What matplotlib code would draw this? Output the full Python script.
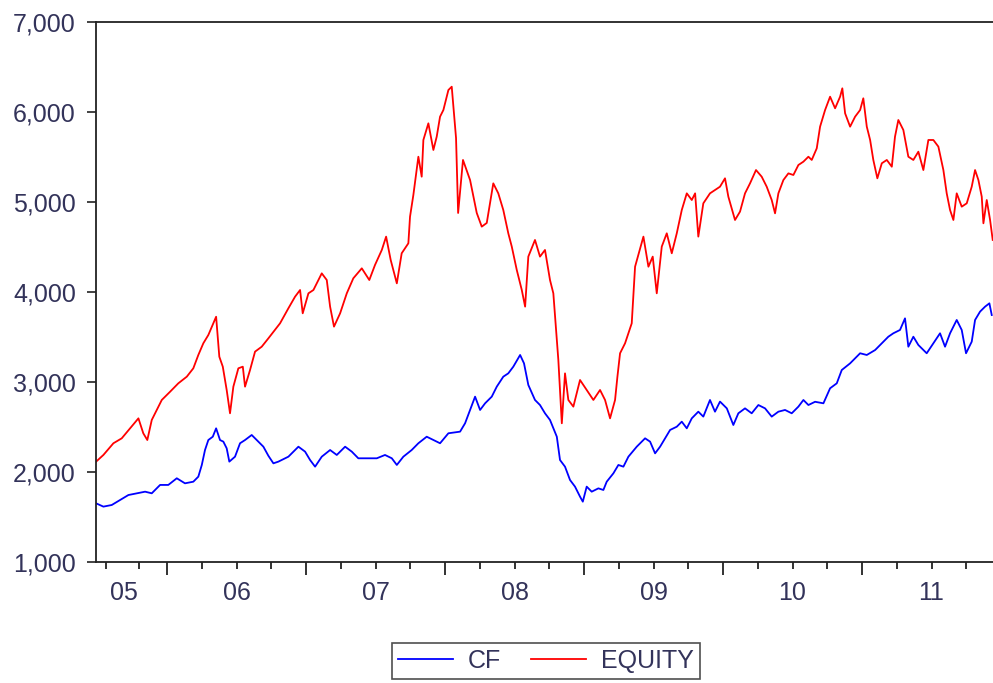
import matplotlib
matplotlib.use("Agg")
import matplotlib.pyplot as plt
from matplotlib.ticker import FuncFormatter
from matplotlib.transforms import blended_transform_factory

# time axis in decimal years
cf_t = [2005.489, 2005.542, 2005.602, 2005.662, 2005.722, 2005.782, 2005.842, 2005.890,
        2005.950, 2006.009, 2006.070, 2006.129, 2006.189, 2006.225, 2006.250, 2006.273,
        2006.297, 2006.329, 2006.353, 2006.381, 2006.405, 2006.429, 2006.448, 2006.489,
        2006.525, 2006.561, 2006.609, 2006.645, 2006.693, 2006.729, 2006.765, 2006.801,
        2006.873, 2006.945, 2006.993, 2007.029, 2007.065, 2007.113, 2007.173, 2007.221,
        2007.281, 2007.329, 2007.376, 2007.437, 2007.509, 2007.568, 2007.617, 2007.653,
        2007.700, 2007.760, 2007.808, 2007.868, 2007.916, 2007.964, 2008.024, 2008.108,
        2008.144, 2008.180, 2008.216, 2008.252, 2008.288, 2008.336, 2008.372, 2008.419,
        2008.455, 2008.491, 2008.540, 2008.568, 2008.599, 2008.647, 2008.683, 2008.719,
        2008.755, 2008.804, 2008.827, 2008.863, 2008.899, 2008.935, 2008.971, 2008.991,
        2009.019, 2009.055, 2009.103, 2009.139, 2009.163, 2009.211, 2009.247, 2009.283,
        2009.319, 2009.379, 2009.439, 2009.475, 2009.511, 2009.547, 2009.583, 2009.619,
        2009.667, 2009.703, 2009.739, 2009.775, 2009.822, 2009.858, 2009.906, 2009.942,
        2009.978, 2010.027, 2010.074, 2010.110, 2010.158, 2010.206, 2010.254, 2010.302,
        2010.350, 2010.398, 2010.446, 2010.494, 2010.542, 2010.578, 2010.614, 2010.662,
        2010.722, 2010.770, 2010.818, 2010.854, 2010.914, 2010.986, 2011.034, 2011.094,
        2011.142, 2011.189, 2011.225, 2011.273, 2011.309, 2011.333, 2011.369, 2011.405,
        2011.465, 2011.513, 2011.561, 2011.597, 2011.633, 2011.681, 2011.717, 2011.748,
        2011.789, 2011.813, 2011.849, 2011.885, 2011.916, 2011.933]
cf_v = [1652, 1615, 1633, 1689, 1744, 1763, 1781, 1763,
        1856, 1856, 1930, 1874, 1892, 1948, 2078, 2244,
        2355, 2392, 2485, 2355, 2337, 2263, 2115, 2170,
        2319, 2355, 2411, 2355, 2281, 2180, 2096, 2115,
        2170, 2281, 2226, 2133, 2059, 2170, 2244, 2189,
        2281, 2226, 2152, 2152, 2152, 2189, 2152, 2078,
        2170, 2244, 2319, 2392, 2355, 2319, 2430, 2448,
        2541, 2689, 2837, 2689, 2763, 2837, 2948, 3059,
        3096, 3170, 3300, 3207, 2967, 2800, 2744, 2652,
        2578, 2392, 2133, 2059, 1911, 1837, 1726, 1670,
        1837, 1781, 1818, 1800, 1892, 1985, 2078, 2059,
        2170, 2281, 2374, 2337, 2207, 2281, 2374, 2467,
        2503, 2559, 2485, 2596, 2670, 2615, 2800, 2670,
        2782, 2707, 2522, 2652, 2707, 2652, 2744, 2707,
        2615, 2670, 2689, 2652, 2726, 2800, 2744, 2780,
        2763, 2930, 2985, 3133, 3207, 3319, 3300, 3355,
        3430, 3503, 3541, 3578, 3707, 3392, 3503, 3411,
        3319, 3430, 3541, 3392, 3541, 3689, 3578, 3319,
        3448, 3689, 3782, 3837, 3874, 3744]

eq_t = [2005.489, 2005.542, 2005.614, 2005.674, 2005.734, 2005.794, 2005.829, 2005.858,
        2005.890, 2005.926, 2005.962, 2006.022, 2006.081, 2006.142, 2006.189, 2006.225,
        2006.261, 2006.297, 2006.322, 2006.353, 2006.376, 2006.401, 2006.429, 2006.453,
        2006.477, 2006.513, 2006.545, 2006.561, 2006.597, 2006.633, 2006.681, 2006.729,
        2006.813, 2006.873, 2006.921, 2006.957, 2006.976, 2007.017, 2007.053, 2007.089,
        2007.113, 2007.149, 2007.173, 2007.201, 2007.245, 2007.293, 2007.340, 2007.401,
        2007.455, 2007.496, 2007.545, 2007.576, 2007.609, 2007.653, 2007.688, 2007.736,
        2007.748, 2007.772, 2007.808, 2007.832, 2007.844, 2007.880, 2007.916, 2007.940,
        2007.964, 2007.988, 2008.024, 2008.048, 2008.079, 2008.094, 2008.129, 2008.180,
        2008.228, 2008.264, 2008.300, 2008.347, 2008.383, 2008.419, 2008.455, 2008.480,
        2008.516, 2008.552, 2008.576, 2008.599, 2008.647, 2008.683, 2008.719, 2008.755,
        2008.779, 2008.799, 2008.815, 2008.840, 2008.863, 2008.887, 2008.923, 2008.971,
        2009.019, 2009.067, 2009.115, 2009.151, 2009.187, 2009.223, 2009.240, 2009.259,
        2009.295, 2009.343, 2009.367, 2009.427, 2009.463, 2009.494, 2009.523, 2009.559,
        2009.595, 2009.631, 2009.667, 2009.703, 2009.739, 2009.775, 2009.799, 2009.822,
        2009.858, 2009.906, 2009.942, 2009.978, 2010.014, 2010.038, 2010.086, 2010.122,
        2010.158, 2010.194, 2010.237, 2010.278, 2010.314, 2010.350, 2010.374, 2010.398,
        2010.434, 2010.470, 2010.506, 2010.542, 2010.578, 2010.614, 2010.638, 2010.674,
        2010.698, 2010.734, 2010.770, 2010.806, 2010.842, 2010.858, 2010.878, 2010.914,
        2010.950, 2010.986, 2011.009, 2011.034, 2011.058, 2011.081, 2011.110, 2011.142,
        2011.178, 2011.214, 2011.237, 2011.261, 2011.297, 2011.333, 2011.369, 2011.405,
        2011.441, 2011.477, 2011.513, 2011.549, 2011.585, 2011.609, 2011.633, 2011.657,
        2011.681, 2011.717, 2011.753, 2011.789, 2011.813, 2011.837, 2011.861, 2011.873,
        2011.897, 2011.921, 2011.940]
eq_v = [2114, 2189, 2319, 2374, 2485, 2596, 2430, 2355,
        2578, 2689, 2800, 2892, 2985, 3059, 3152, 3300,
        3430, 3522, 3614, 3725, 3281, 3170, 2911, 2652,
        2948, 3152, 3170, 2948, 3133, 3337, 3392, 3485,
        3652, 3819, 3948, 4022, 3763, 3985, 4022, 4133,
        4207, 4133, 3837, 3615, 3763, 3985, 4152, 4263,
        4133, 4300, 4467, 4615, 4355, 4096, 4430, 4541,
        4837, 5078, 5503, 5281, 5689, 5874, 5578, 5726,
        5948, 6022, 6244, 6281, 5711, 4878, 5467, 5244,
        4878, 4726, 4767, 5207, 5096, 4911, 4652, 4504,
        4244, 4022, 3837, 4393, 4578, 4393, 4467, 4133,
        3985, 3578, 3244, 2541, 3096, 2800, 2726, 3022,
        2911, 2800, 2911, 2800, 2596, 2800, 3059, 3319,
        3430, 3652, 4281, 4615, 4281, 4393, 3985, 4504,
        4652, 4430, 4652, 4911, 5096, 5022, 5096, 4615,
        4985, 5096, 5133, 5170, 5263, 5059, 4800, 4893,
        5096, 5207, 5355, 5281, 5170, 5022, 4874, 5096,
        5244, 5318, 5300, 5411, 5448, 5503, 5467, 5596,
        5837, 6022, 6170, 6041, 6170, 6263, 5985, 5837,
        5948, 6022, 6152, 5837, 5689, 5467, 5263, 5430,
        5467, 5392, 5726, 5911, 5800, 5503, 5467, 5559,
        5355, 5689, 5689, 5615, 5355, 5096, 4911, 4800,
        5096, 4948, 4985, 5170, 5355, 5244, 5059, 4763,
        5022, 4800, 4578]

years = [2006, 2007, 2008, 2009, 2010, 2011]
year_labels = ["05", "06", "07", "08", "09", "10", "11"]
label_pos = [2005.69, 2006.5, 2007.5, 2008.5, 2009.5, 2010.5, 2011.5]
y_ticks = [1000, 2000, 3000, 4000, 5000, 6000, 7000]

text_col = "#33335a"
plt.rcParams["font.family"] = ["Liberation Sans", "DejaVu Sans"]

fig = plt.figure(figsize=(9.93, 6.83), dpi=100)
ax = fig.add_axes([0.0967, 0.1772, 0.9033, 0.7906])

ax.plot(cf_t, cf_v, color="#0000ff", linewidth=1.3, label="CF")
ax.plot(eq_t, eq_v, color="#ff0000", linewidth=1.3, label="EQUITY")

ax.set_xlim(2005.489, 2011.942)
ax.set_ylim(1000, 7000)

# spines: the right edge is cut off in the original
ax.spines["right"].set_visible(False)
for side in ["top", "left", "bottom"]:
    ax.spines[side].set_linewidth(1.3)
    ax.spines[side].set_color("#222222")

ax.set_yticks(y_ticks)
ax.yaxis.set_major_formatter(FuncFormatter(lambda v, _: f"{int(v):,}"))
ax.tick_params(axis="y", direction="out", length=6.5, width=1.2, pad=8,
               labelsize=18, labelcolor=text_col, color="#222222")

# long ticks at year starts, short ticks at quarters
quarters = [2005.56, 2005.80]
for y in years:
    quarters += [y + 0.25, y + 0.5, y + 0.75]
ax.set_xticks(years)
ax.set_xticklabels([])
ax.set_xticks(quarters, minor=True)
ax.tick_params(axis="x", which="major", direction="out", length=9, width=1.3, color="#222222")
ax.tick_params(axis="x", which="minor", direction="out", length=5, width=1.3, color="#222222")

trans = blended_transform_factory(ax.transData, ax.transAxes)
for pos, lab in zip(label_pos, year_labels):
    ax.text(pos, -0.036, lab, transform=trans, ha="center", va="top",
            fontsize=18, color=text_col)

leg = fig.legend(loc="center", bbox_to_anchor=(0.55, 0.032), ncol=2,
                 fontsize=18, frameon=True, fancybox=False, handlelength=2.2,
                 columnspacing=1.2, handletextpad=0.6, borderpad=0.25)
leg.get_frame().set_edgecolor("#222222")
leg.get_frame().set_linewidth(1.2)
for txt in leg.get_texts():
    txt.set_color(text_col)

fig.savefig("out.png", dpi=100)
